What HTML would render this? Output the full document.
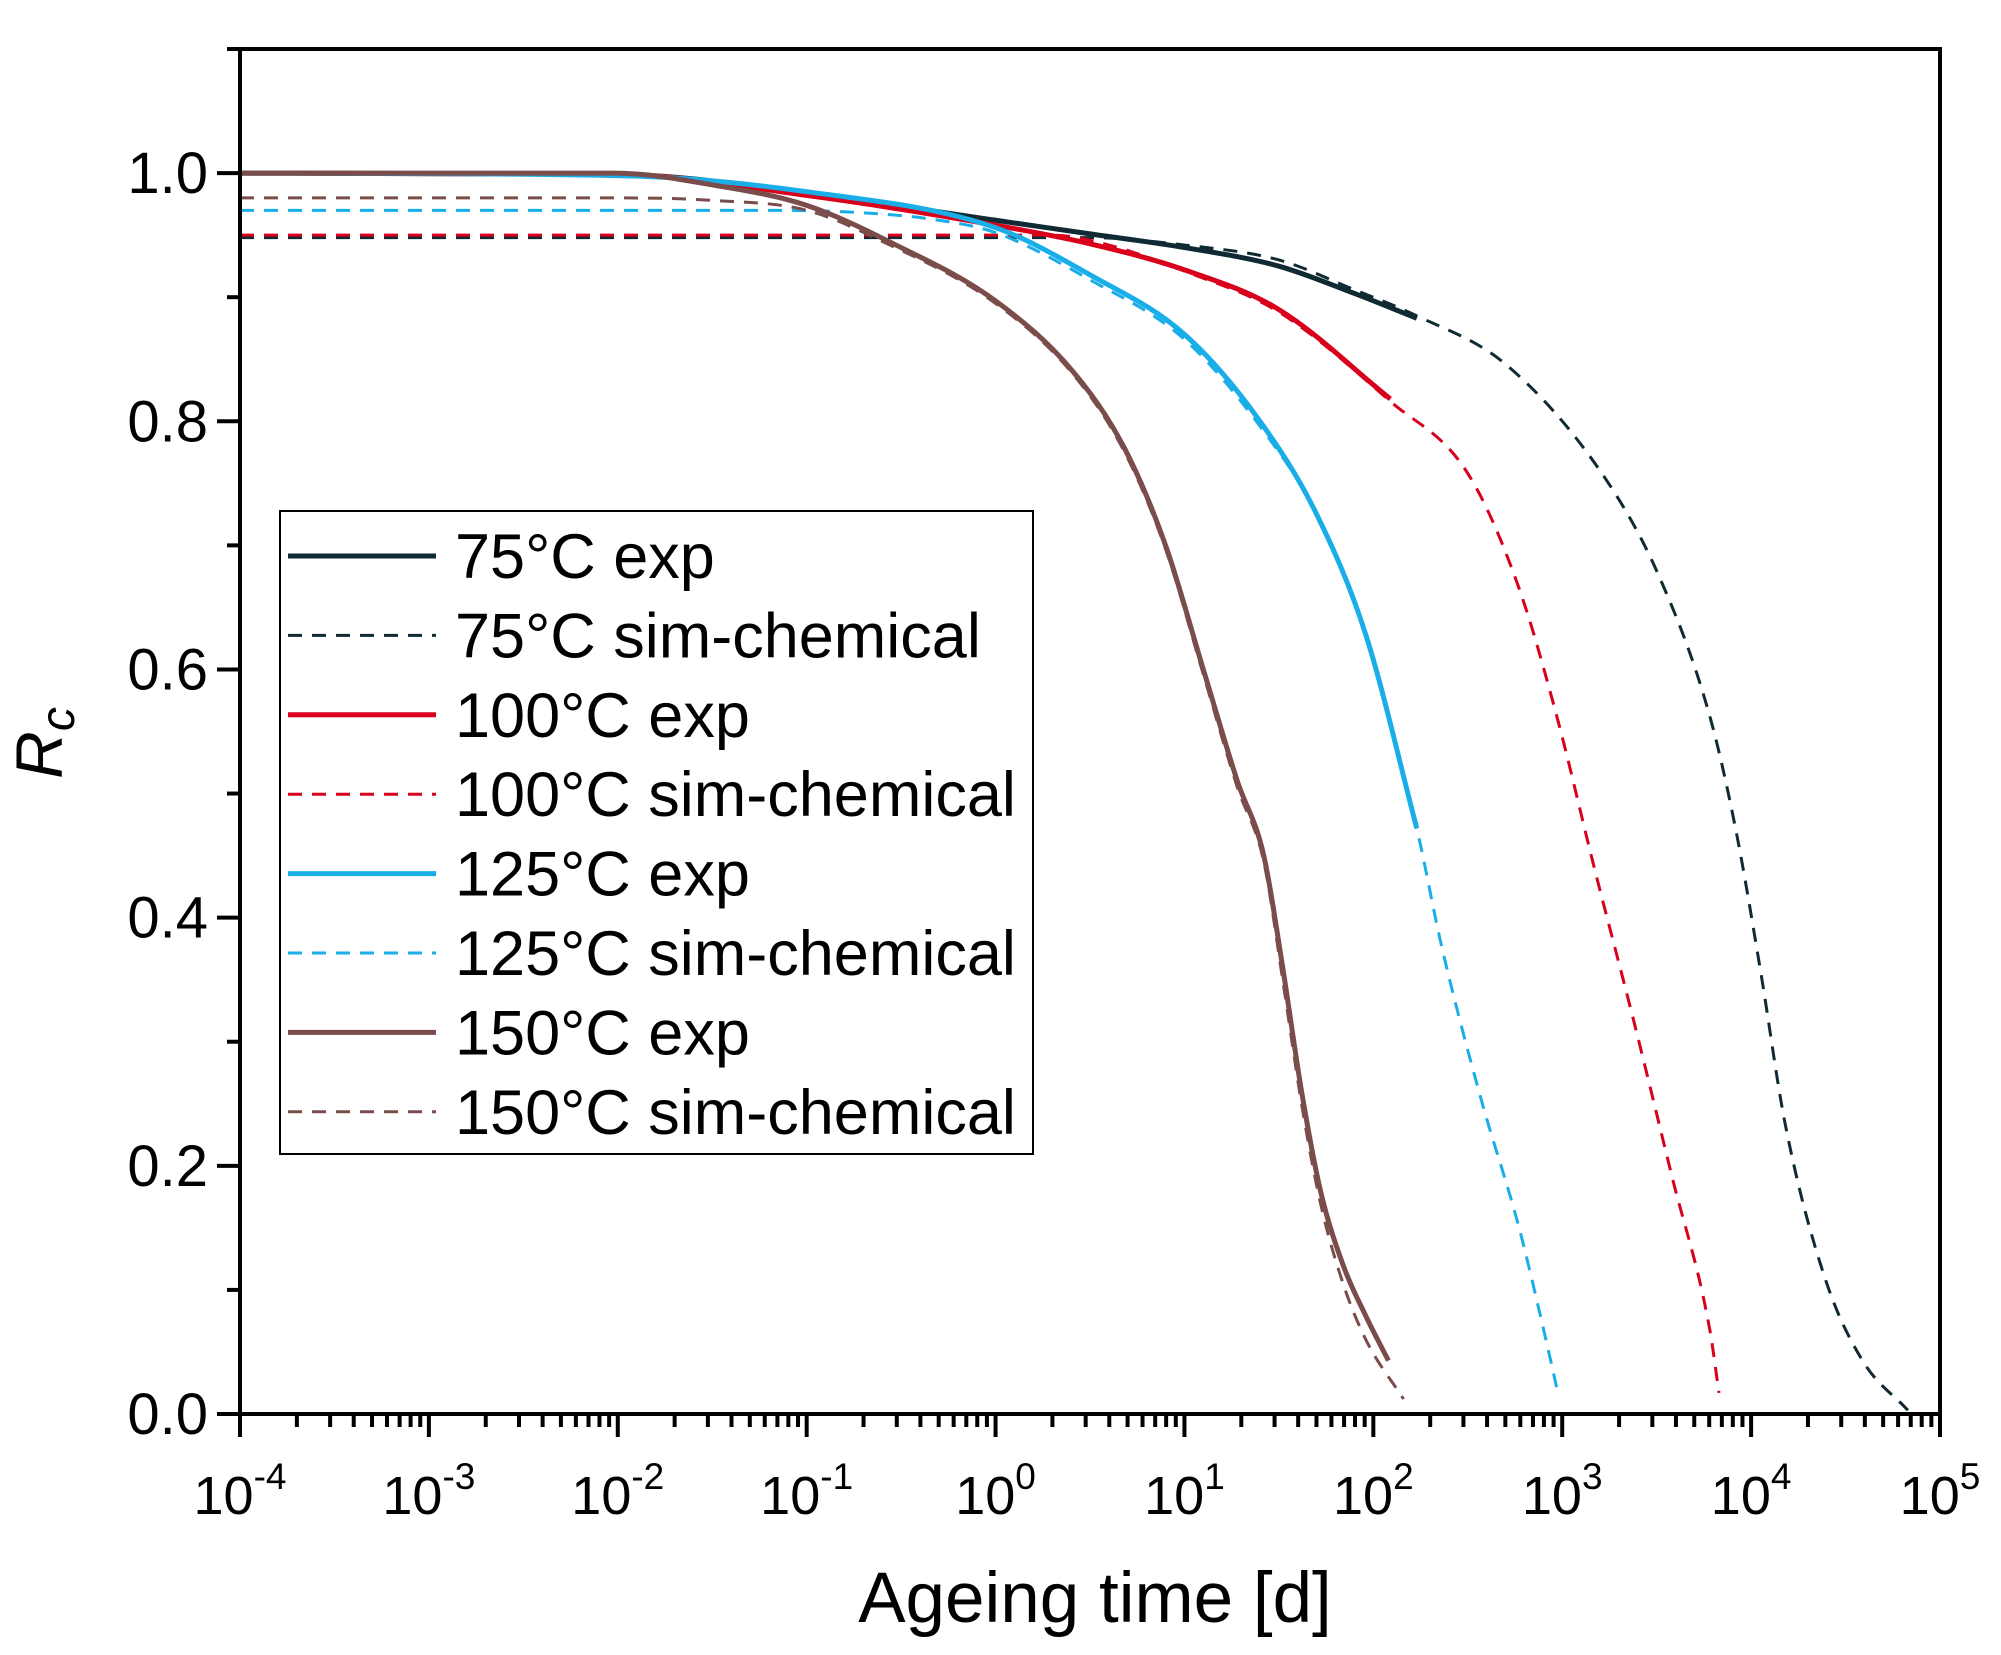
<!DOCTYPE html>
<html><head><meta charset="utf-8"><style>
html,body{margin:0;padding:0;background:#fff;}
svg{display:block;font-family:"Liberation Sans",Arial,sans-serif;}
</style></head><body>
<svg id="s" width="2001" height="1655" viewBox="0 0 2001 1655" xmlns="http://www.w3.org/2000/svg">
<g id="curves"></g>
<g id="axes"></g>
<rect x="280" y="511" width="753" height="643" fill="#fff" stroke="#000" stroke-width="2"/>
<g id="leg"></g>
<text x="1095" y="1622" font-size="71" text-anchor="middle">Ageing time [d]</text>
<text transform="translate(62,743) rotate(-90)" font-size="66" text-anchor="middle" font-style="italic">R<tspan font-size="48" dy="12">c</tspan></text>
</svg>
<script>
const L=240,R=1940,T=49,B=1414;
const X=d=>L+(d+4)*(R-L)/9, Y=v=>B-v*(B-T)/1.1;
const NS="http://www.w3.org/2000/svg";
function el(p,tag,a,txt){const e=document.createElementNS(NS,tag);for(const k in a)e.setAttribute(k,a[k]);if(txt!==undefined)e.textContent=txt;document.getElementById(p).appendChild(e);return e;}
function path(pts){
 const n=pts.length,xs=pts.map(p=>p[0]),ys=pts.map(p=>p[1]);
 const dl=[],m=[];
 for(let i=0;i<n-1;i++)dl.push((ys[i+1]-ys[i])/(xs[i+1]-xs[i]));
 for(let i=0;i<n;i++){if(i==0)m.push(dl[0]);else if(i==n-1)m.push(dl[n-2]);else m.push(dl[i-1]*dl[i]<=0?0:(dl[i-1]+dl[i])/2);}
 for(let i=0;i<n-1;i++){if(dl[i]==0){m[i]=0;m[i+1]=0;continue;}const a=m[i]/dl[i],b=m[i+1]/dl[i],s=a*a+b*b;if(s>9){const t=3/Math.sqrt(s);m[i]=t*a*dl[i];m[i+1]=t*b*dl[i];}}
 let d="";
 for(let i=0;i<n-1;i++){const h=xs[i+1]-xs[i];
  const p1=[X(xs[i]),Y(ys[i])],p2=[X(xs[i+1]),Y(ys[i+1])];
  const c1=[X(xs[i]+h/3),Y(ys[i]+m[i]*h/3)],c2=[X(xs[i+1]-h/3),Y(ys[i+1]-m[i+1]*h/3)];
  if(i==0)d="M"+p1;d+=" C"+c1+" "+c2+" "+p2;}
 return d;}
const C75="#0f2a33",C100="#d9001b",C125="#1aaee8",C150="#7a4c4a";
const e75=[[-4,1],[-2,0.999],[-1,0.984],[0,0.962],[0.5,0.951],[1,0.94],[1.5,0.925],[1.9,0.903],[2.23,0.883]];
const s75=[[-4,0.948],[0.5,0.948],[1,0.942],[1.5,0.93],[1.9,0.906],[2.23,0.885],[2.7,0.846],[3.21,0.758],[3.51,0.676],[3.78,0.563],[3.92,0.47],[4.05,0.357],[4.18,0.234],[4.39,0.11],[4.59,0.043],[4.83,0.003]];
const e100=[[-4,1],[-2,0.999],[-1,0.982],[0,0.958],[0.5,0.943],[1,0.922],[1.5,0.89],[2.09,0.818]];
const s100=[[-4,0.95],[0.3,0.95],[0.6,0.942],[1,0.921],[1.5,0.888],[2.09,0.816],[2.5,0.758],[2.77,0.666],[2.97,0.563],[3.17,0.44],[3.38,0.316],[3.58,0.192],[3.78,0.069],[3.83,0.017]];
const e125=[[-4,1],[-2,0.998],[-1,0.985],[0,0.956],[0.5,0.918],[1,0.87],[1.4,0.8],[1.7,0.725],[1.96,0.628],[2.23,0.472]];
const s125=[[-4,0.97],[-1.2,0.97],[-0.7,0.968],[-0.3,0.962],[0,0.952],[0.5,0.914],[1,0.866],[1.4,0.796],[1.7,0.725],[1.96,0.628],[2.23,0.472],[2.36,0.378],[2.57,0.254],[2.77,0.151],[2.9,0.069],[2.98,0.015]];
const e150=[[-4,1],[-2.02,1],[-1.48,0.99],[-1,0.974],[-0.54,0.943],[0,0.897],[0.41,0.84],[0.68,0.779],[0.9,0.7],[1.1,0.6],[1.28,0.51],[1.42,0.45],[1.52,0.36],[1.62,0.26],[1.72,0.18],[1.84,0.12],[1.96,0.079],[2.08,0.043]];
const s150=[[-4,0.98],[-2,0.98],[-1.5,0.978],[-1,0.97],[-0.6,0.945],[0,0.895],[0.41,0.838],[0.68,0.776],[0.9,0.697],[1.1,0.596],[1.28,0.505],[1.42,0.445],[1.52,0.35],[1.62,0.25],[1.72,0.17],[1.84,0.105],[1.96,0.06],[2.16,0.012]];
const ser=[[s75,C75,1],[s100,C100,1],[s125,C125,1],[s150,C150,1],[e75,C75,0],[e100,C100,0],[e125,C125,0],[e150,C150,0]];
for(const [p,c,d] of ser){el("curves","path",d?{d:path(p),fill:"none",stroke:c,"stroke-width":3,"stroke-dasharray":"14 10"}:{d:path(p),fill:"none",stroke:c,"stroke-width":5});}
el("axes","rect",{x:L,y:T,width:R-L,height:B-T,fill:"none",stroke:"#000","stroke-width":4});
for(let i=0;i<=11;i++){const v=i/10,y=Y(v),maj=i%2==0;
el("axes","line",{x1:L,x2:L-(maj?23:13),y1:y,y2:y,stroke:"#000","stroke-width":4});
if(maj&&i<=10)el("axes","text",{x:208,y:y+20,"font-size":58,"text-anchor":"end"},v.toFixed(1));}
for(let d=-4;d<=5;d++){const x=X(d);el("axes","line",{x1:x,x2:x,y1:B,y2:B+23,stroke:"#000","stroke-width":4});
const t=el("axes","text",{x:x,y:1514,"font-size":54,"text-anchor":"middle"});t.innerHTML='10<tspan font-size="37" dy="-25">'+d+'</tspan>';
if(d<5)for(let k=2;k<10;k++){const xx=X(d+Math.log10(k));el("axes","line",{x1:xx,x2:xx,y1:B,y2:B+13,stroke:"#000","stroke-width":4});}}
const labs=["75°C exp","75°C sim-chemical","100°C exp","100°C sim-chemical","125°C exp","125°C sim-chemical","150°C exp","150°C sim-chemical"];
const cols=[C75,C75,C100,C100,C125,C125,C150,C150];
labs.forEach((l,i)=>{const y=556+i*79.4;const dash=i%2==1;
el("leg","line",dash?{x1:288,x2:436,y1:y,y2:y,stroke:cols[i],"stroke-width":3,"stroke-dasharray":"14 10"}:{x1:288,x2:436,y1:y,y2:y,stroke:cols[i],"stroke-width":5});
el("leg","text",{x:455,y:y+22,"font-size":63},l);});
</script>
</body></html>
